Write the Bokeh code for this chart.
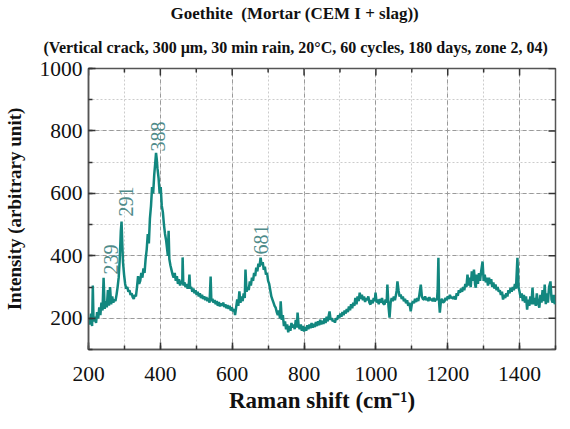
import math
from bokeh.plotting import figure
from bokeh.models import Range1d, SingleIntervalTicker, Title, ColumnDataSource
from bokeh.embed import file_html
from bokeh.resources import INLINE

# ---- data ----
raman_shift = [200, 204, 207, 210, 212, 214, 218, 221, 224, 227, 230, 233, 236, 239, 242, 245, 248, 251, 254, 257,
               260, 263, 266, 269, 272, 275, 278, 281, 284, 287, 290, 292, 294, 296, 299, 302, 305, 308, 311, 314,
               317, 320, 323, 326, 329, 332, 335, 338, 341, 344, 347, 350, 353, 356, 359, 362, 365, 368, 371, 374,
               377, 380, 383, 386, 388, 390, 392, 395, 398, 401, 404, 407, 410, 413, 416, 419, 421, 423, 425, 428,
               431, 434, 437, 440, 443, 446, 449, 452, 455, 458, 461, 462, 464, 467, 470, 473, 476, 479, 481, 483,
               486, 489, 492, 495, 498, 501, 504, 507, 510, 513, 516, 519, 522, 525, 528, 531, 534, 537, 540, 542,
               545, 548, 551, 554, 557, 560, 563, 566, 569, 572, 575, 578, 581, 584, 587, 590, 593, 596, 599, 602,
               605, 608, 611, 614, 617, 620, 623, 626, 629, 632, 635, 637, 640, 643, 646, 649, 652, 655, 658, 661,
               664, 667, 670, 673, 676, 679, 682, 685, 688, 691, 694, 697, 700, 703, 706, 709, 712, 715, 718, 721,
               724, 727, 730, 733, 735, 738, 741, 744, 747, 750, 753, 756, 759, 762, 765, 768, 771, 774, 777, 780,
               782, 785, 788, 791, 794, 797, 800, 803, 806, 809, 812, 815, 818, 821, 824, 827, 830, 833, 836, 839,
               842, 845, 848, 851, 854, 857, 860, 863, 866, 869, 871, 874, 877, 880, 883, 886, 889, 892, 895, 898,
               901, 904, 907, 910, 913, 916, 919, 922, 925, 928, 931, 934, 937, 940, 943, 946, 949, 952, 955, 958,
               961, 964, 967, 970, 973, 976, 979, 982, 985, 988, 991, 994, 997, 999, 1002, 1005, 1008, 1011, 1014, 1017,
               1020, 1024, 1027, 1030, 1032, 1035, 1038, 1041, 1044, 1047, 1050, 1053, 1056, 1058, 1060, 1063, 1066, 1069, 1072, 1075,
               1078, 1081, 1084, 1087, 1090, 1093, 1097, 1100, 1103, 1106, 1109, 1112, 1115, 1118, 1121, 1125, 1128, 1131, 1134, 1137,
               1140, 1143, 1146, 1149, 1152, 1155, 1158, 1161, 1164, 1167, 1170, 1172, 1174, 1176, 1178, 1181, 1184, 1187, 1191, 1194,
               1197, 1200, 1203, 1206, 1209, 1212, 1215, 1219, 1222, 1225, 1228, 1231, 1234, 1237, 1240, 1243, 1246, 1249, 1252, 1255,
               1258, 1261, 1264, 1267, 1270, 1273, 1276, 1278, 1281, 1284, 1287, 1290, 1293, 1297, 1300, 1303, 1306, 1309, 1312, 1315,
               1318, 1321, 1324, 1327, 1330, 1333, 1336, 1339, 1342, 1345, 1348, 1351, 1354, 1357, 1360, 1363, 1366, 1369, 1372, 1375,
               1378, 1381, 1384, 1387, 1390, 1394, 1397, 1400, 1403, 1406, 1409, 1412, 1415, 1418, 1421, 1424, 1427, 1430, 1433, 1436,
               1439, 1442, 1445, 1448, 1451, 1455, 1458, 1461, 1464, 1467, 1470, 1473, 1476, 1479, 1482, 1486, 1489, 1492, 1495, 1498,
               1500]

intensity = [200, 180, 215, 175, 305, 190, 205, 185, 220, 200, 235, 210, 250, 225, 330, 230, 255, 235, 290, 240,
             300, 245, 270, 250, 260, 255, 275, 300, 330, 390, 480, 510, 440, 380, 340, 310, 295, 300, 285, 290,
             275, 280, 268, 262, 275, 270, 300, 335, 310, 320, 345, 330, 360, 345, 390, 420, 470, 440, 520, 560,
             620, 600, 660, 700, 730, 710, 680, 650, 600, 620, 560, 540, 500, 470, 450, 420, 400, 480, 390, 370,
             355, 340, 330, 345, 320, 335, 310, 325, 305, 320, 310, 395, 305, 315, 300, 310, 295, 305, 340, 295,
             300, 285, 295, 280, 290, 275, 285, 270, 280, 265, 275, 262, 270, 258, 268, 255, 265, 250, 334, 255,
             262, 250, 258, 245, 255, 240, 252, 238, 248, 240, 250, 236, 245, 232, 242, 230, 240, 225, 235, 222,
             230, 210, 235, 260, 240, 286, 250, 270, 255, 280, 265, 356, 285, 300, 290, 318, 305, 330, 320, 345,
             335, 362, 350, 375, 365, 394, 370, 380, 355, 365, 340, 345, 320, 310, 290, 270, 260, 250, 240, 234,
             220, 210, 225, 200, 254, 195, 210, 175, 190, 165, 180, 155, 175, 160, 185, 170, 180, 165, 195, 170,
             218, 175, 165, 180, 160, 175, 158, 172, 160, 178, 165, 180, 168, 185, 170, 182, 172, 188, 175, 190,
             178, 195, 180, 192, 182, 200, 185, 205, 190, 210, 222, 195, 200, 190, 195, 186, 200, 195, 210, 200,
             215, 205, 220, 210, 225, 215, 230, 220, 238, 226, 245, 232, 250, 240, 265, 245, 270, 255, 282, 262,
             275, 258, 270, 252, 265, 258, 270, 250, 244, 258, 248, 265, 255, 282, 250, 260, 245, 262, 250, 265,
             248, 244, 260, 250, 308, 240, 202, 250, 265, 255, 270, 258, 275, 290, 318, 290, 270, 276, 262, 270,
             255, 262, 248, 258, 240, 250, 222, 245, 255, 248, 262, 252, 265, 255, 275, 308, 270, 262, 260, 270,
             258, 265, 255, 268, 258, 262, 255, 265, 254, 262, 258, 290, 394, 250, 218, 255, 262, 250, 254, 265,
             258, 270, 262, 275, 265, 268, 262, 270, 260, 280, 272, 290, 282, 295, 285, 300, 290, 310, 300, 340,
             305, 330, 300, 350, 320, 356, 310, 298, 340, 310, 345, 320, 350, 382, 320, 340, 315, 330, 305, 330,
             310, 325, 300, 315, 295, 308, 290, 300, 285, 290, 275, 285, 260, 275, 265, 280, 270, 290, 280, 298,
             285, 300, 290, 310, 295, 394, 300, 285, 266, 280, 255, 275, 250, 270, 228, 260, 240, 270, 245, 298,
             245, 265, 240, 280, 250, 234, 275, 250, 290, 255, 308, 245, 280, 250, 300, 318, 260, 250, 275, 245,
             255]

peak_labels = ["239", "291", "388", "681"]
peak_shift = [239, 291, 388, 681]
peak_label_y = [340, 526, 734, 404]

x_start, x_end = 200, 1500
y_start, y_end = 100, 1000
x_major = list(range(200, 1500, 200))
x_minor = list(range(300, 1500, 200))
y_major = list(range(200, 1001, 200))
y_minor = list(range(100, 1000, 200))

title_line1 = "Goethite\u00a0 (Mortar (CEM I + slag))"
title_line2 = "(Vertical crack, 300 \u00b5m, 30 min rain, 20\u00b0C, 60 cycles, 180 days, zone 2, 04)"
x_label = "Raman shift (cm\u207b\u00b9)"
y_label = "Intensity (arbitrary unit)"

# ---- figure ----
SERIF = "Liberation Serif"
LINE_COLOR = "#12877f"
LABEL_COLOR = "#4f8b8a"
TICK_COLOR = "#333333"

p = figure(frame_width=467, frame_height=281, output_backend="svg", toolbar_location=None,
           x_range=Range1d(x_start, x_end), y_range=Range1d(y_start, y_end),
           min_border_left=83, min_border_right=4, min_border_top=60, min_border_bottom=60)

p.add_layout(Title(text=title_line2, align="left", text_font=SERIF, text_font_size="16px",
                   text_font_style="bold", text_color="#111111", standoff=26, offset=-45), "above")
p.add_layout(Title(text=title_line1, align="left", text_font=SERIF, text_font_size="17px",
                   text_font_style="bold", text_color="#111111", standoff=2, offset=82), "above")

p.outline_line_color = "#555555"
p.outline_line_width = 1.5
p.background_fill_color = "white"
p.border_fill_color = "white"

for ax in (p.xaxis[0], p.yaxis[0]):
    ax.major_tick_in = 7
    ax.major_tick_out = 0
    ax.minor_tick_in = 4
    ax.minor_tick_out = 0
    ax.axis_line_color = "#555555"
    ax.axis_line_width = 1.5
    ax.major_tick_line_color = TICK_COLOR
    ax.minor_tick_line_color = TICK_COLOR
    ax.major_tick_line_width = 1.5
    ax.minor_tick_line_width = 1.5
    ax.major_label_text_font = SERIF
    ax.major_label_text_font_size = "21.5px"
    ax.major_label_text_color = "#111111"
    ax.major_label_text_line_height = 1.0
    ax.axis_label_text_font = SERIF
    ax.axis_label_text_font_style = "bold"
    ax.axis_label_text_color = "#111111"
    ax.axis_label_text_line_height = 1.0

p.xaxis[0].ticker = SingleIntervalTicker(interval=200, num_minor_ticks=2)
p.yaxis[0].ticker = SingleIntervalTicker(interval=200, num_minor_ticks=2)
p.xaxis[0].axis_label = x_label
p.yaxis[0].axis_label = y_label
p.xaxis[0].axis_label_text_font_size = "23px"
p.yaxis[0].axis_label_text_font_size = "19px"
p.xaxis[0].major_label_standoff = 17
p.xaxis[0].axis_label_standoff = 4
p.yaxis[0].major_label_standoff = 6
p.yaxis[0].axis_label_standoff = 12

p.xgrid.ticker = SingleIntervalTicker(interval=200, num_minor_ticks=2)
p.ygrid.ticker = SingleIntervalTicker(interval=200, num_minor_ticks=2)
for g in (p.xgrid[0], p.ygrid[0]):
    g.grid_line_color = "#9a9a9a"
    g.grid_line_dash = "4 3"
    g.grid_line_width = 1
    g.minor_grid_line_color = "#cccccc"
    g.minor_grid_line_dash = "2 2"
    g.minor_grid_line_width = 1

# inward ticks on the top and right edges (markers centred on the frame edge; half is clipped)
p.scatter(x_major, [y_end] * len(x_major), marker="dash", angle=math.pi / 2, size=14,
          line_color=TICK_COLOR, line_width=1.5)
p.scatter(x_minor, [y_end] * len(x_minor), marker="dash", angle=math.pi / 2, size=8,
          line_color=TICK_COLOR, line_width=1.5)
p.scatter([x_end] * len(y_major), y_major, marker="dash", size=14,
          line_color=TICK_COLOR, line_width=1.5)
p.scatter([x_end] * len(y_minor), y_minor, marker="dash", size=8,
          line_color=TICK_COLOR, line_width=1.5)

p.line(raman_shift, intensity, line_color=LINE_COLOR, line_width=2.5)

src = ColumnDataSource(dict(x=peak_shift, y=peak_label_y, t=peak_labels,
                            dx=[8, 5, 2, 0]))
p.text(x="x", y="y", text="t", source=src, angle=math.pi / 2, x_offset="dx",
       text_align="left", text_baseline="middle", text_font_size="20px",
       text_color=LABEL_COLOR, text_font="Open Sans")

open("out.html", "w").write(file_html(p, INLINE))
